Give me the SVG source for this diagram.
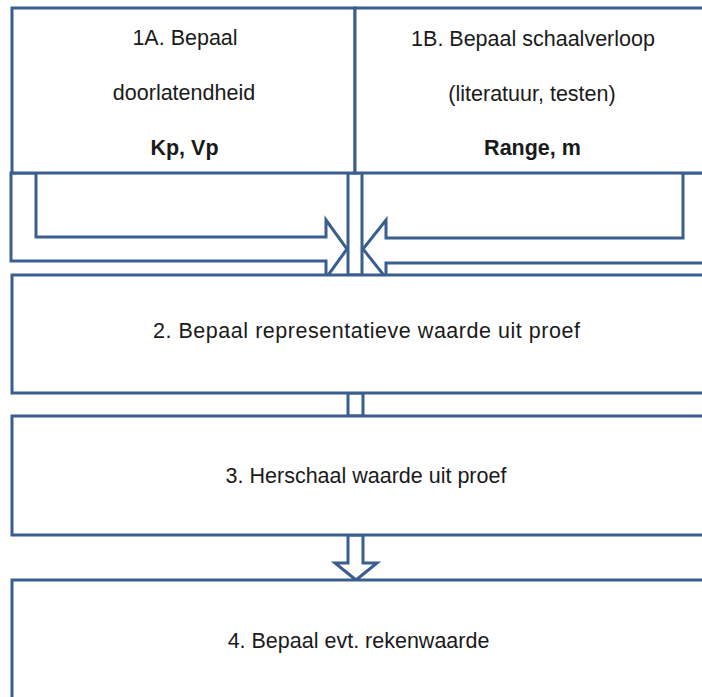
<svg xmlns="http://www.w3.org/2000/svg" width="702" height="697" viewBox="0 0 702 697">
<style>
.s{fill:#ffffff;stroke:#3A5F8F;stroke-width:3;stroke-linejoin:miter}
.t{font-family:"Liberation Sans",Arial,sans-serif;font-size:21.5px;fill:#1a1a1a;text-anchor:middle}
.b{font-weight:bold}
</style>
<rect width="702" height="697" fill="#ffffff"/>
<g id="connectors">
<polygon class="s" points="11,173 36,173 36,237 326,237 326,220 347,249 326,278 326,261 11,261"/>
<polygon class="s" points="683,173 710,173 710,263 386,263 386,278 363,249 386,220 386,238 683,238"/>
<rect class="s" x="348" y="173" width="14" height="102"/>
<rect class="s" x="348" y="393" width="15" height="23"/>
<polygon class="s" points="348,535 363,535 363,563 377,563 356,580 335,563 348,563"/>
</g>
<g id="node1a">
<rect class="s" x="12" y="8" width="343" height="165"/>
<text class="t" x="185" y="45">1A. Bepaal</text>
<text class="t" x="184" y="100">doorlatendheid</text>
<text class="t b" x="184.5" y="155">Kp, Vp</text>
</g>
<g id="node1b">
<rect class="s" x="355" y="8" width="360" height="165"/>
<text class="t" x="533" y="46">1B. Bepaal schaalverloop</text>
<text class="t" x="532" y="101">(literatuur, testen)</text>
<text class="t b" x="532.5" y="155">Range, m</text>
</g>
<g id="node2">
<rect class="s" x="12" y="275" width="705" height="118"/>
<text class="t" x="366.5" y="338" textLength="427" lengthAdjust="spacing">2. Bepaal representatieve waarde uit proef</text>
</g>
<g id="node3">
<rect class="s" x="12" y="416" width="705" height="119"/>
<text class="t" x="366" y="483">3. Herschaal waarde uit proef</text>
</g>
<g id="node4">
<rect class="s" x="12" y="580" width="705" height="130"/>
<text class="t" x="358.5" y="648">4. Bepaal evt. rekenwaarde</text>
</g>
</svg>
